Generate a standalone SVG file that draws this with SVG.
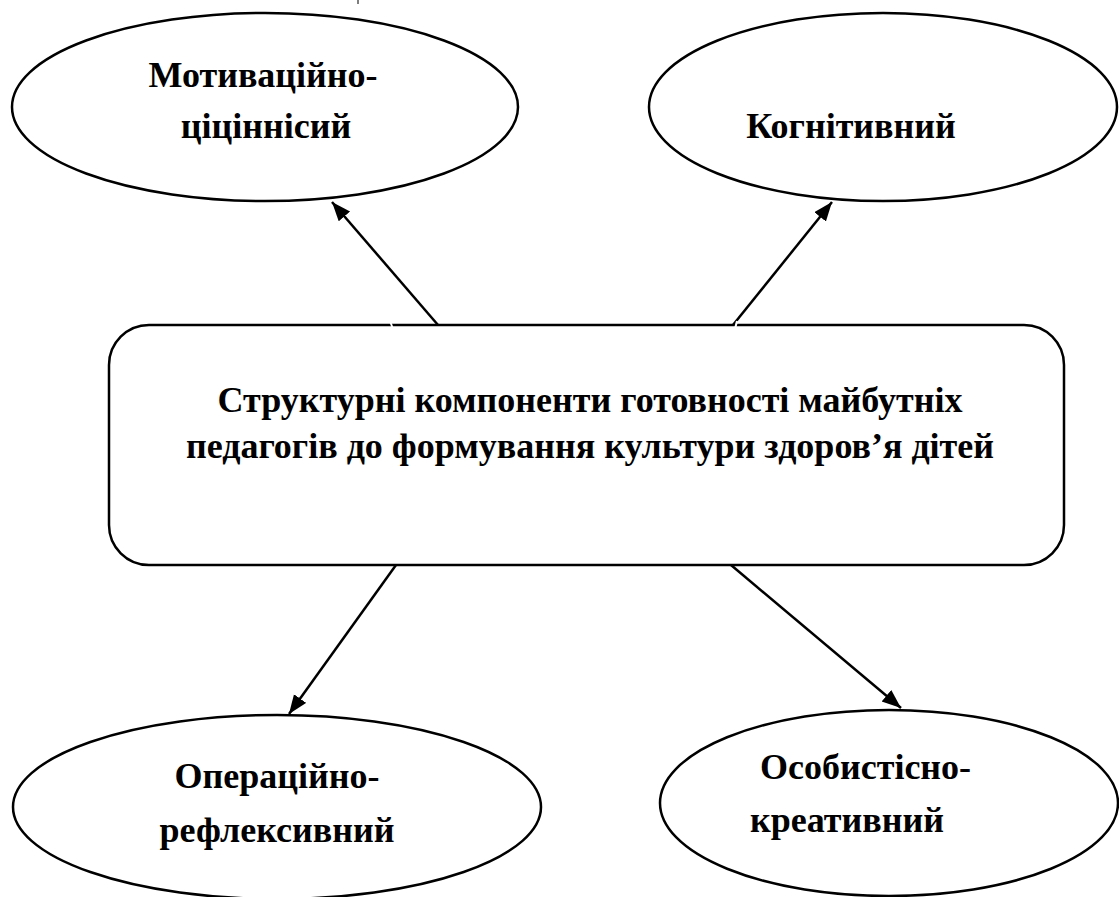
<svg xmlns="http://www.w3.org/2000/svg" width="1119" height="897" viewBox="0 0 1119 897">
<style>
.shape{fill:#fff;stroke:#000;stroke-width:2.5}
.lbl{font-family:"Liberation Serif","Times New Roman",serif;font-weight:bold;font-size:36px;fill:#000}
.conn{stroke:#000;stroke-width:2.5;fill:none}
</style>
<defs>
<marker id="arr" markerUnits="userSpaceOnUse" markerWidth="22" markerHeight="16" refX="19" refY="7.5" orient="auto">
<path d="M0,0 L19,7.5 L0,15 z" fill="#000"/>
</marker>
</defs>
<rect width="1119" height="897" fill="#fff"/>
<line x1="358" y1="0" x2="358" y2="4" stroke="#555" stroke-width="1.5"/>
<g id="n-motyv">
<ellipse class="shape" cx="265" cy="107" rx="253" ry="94"/>
<text class="lbl" x="263" y="87" text-anchor="middle">Мотиваційно-</text>
<text class="lbl" x="266" y="138" text-anchor="middle">ціціннісий</text>
</g>
<g id="n-kogn">
<ellipse class="shape" cx="883" cy="107" rx="234" ry="94"/>
<text class="lbl" x="851" y="138" text-anchor="middle">Когнітивний</text>
</g>
<g id="n-center">
<rect class="shape" x="109" y="325" width="955" height="240" rx="40" ry="40"/>
<text class="lbl" x="590" y="412" text-anchor="middle">Структурні компоненти готовності майбутніх</text>
<text class="lbl" x="590" y="458" text-anchor="middle">педагогів до формування культури здоров’я дітей</text>
</g>
<g id="n-oper">
<ellipse class="shape" cx="277" cy="807" rx="264" ry="92"/>
<text class="lbl" x="277" y="788" text-anchor="middle">Операційно-</text>
<text class="lbl" x="277" y="842" text-anchor="middle">рефлексивний</text>
</g>
<g id="n-osob">
<ellipse class="shape" cx="889" cy="803" rx="229" ry="93"/>
<text class="lbl" x="760" y="779">Особистісно-</text>
<text class="lbl" x="750" y="832">креативний</text>
</g>
<g id="connectors">
<line class="conn" x1="438" y1="325" x2="332" y2="202" marker-end="url(#arr)"/>
<line class="conn" x1="733" y1="325" x2="832" y2="202" marker-end="url(#arr)"/>
<line class="conn" x1="396" y1="565" x2="289" y2="714" marker-end="url(#arr)"/>
<line class="conn" x1="731" y1="565" x2="901" y2="708" marker-end="url(#arr)"/>
<line x1="390" y1="321" x2="393" y2="329" stroke="#fff" stroke-width="2"/>
<line x1="737" y1="321" x2="735" y2="329" stroke="#fff" stroke-width="2"/>
</g>
</svg>
